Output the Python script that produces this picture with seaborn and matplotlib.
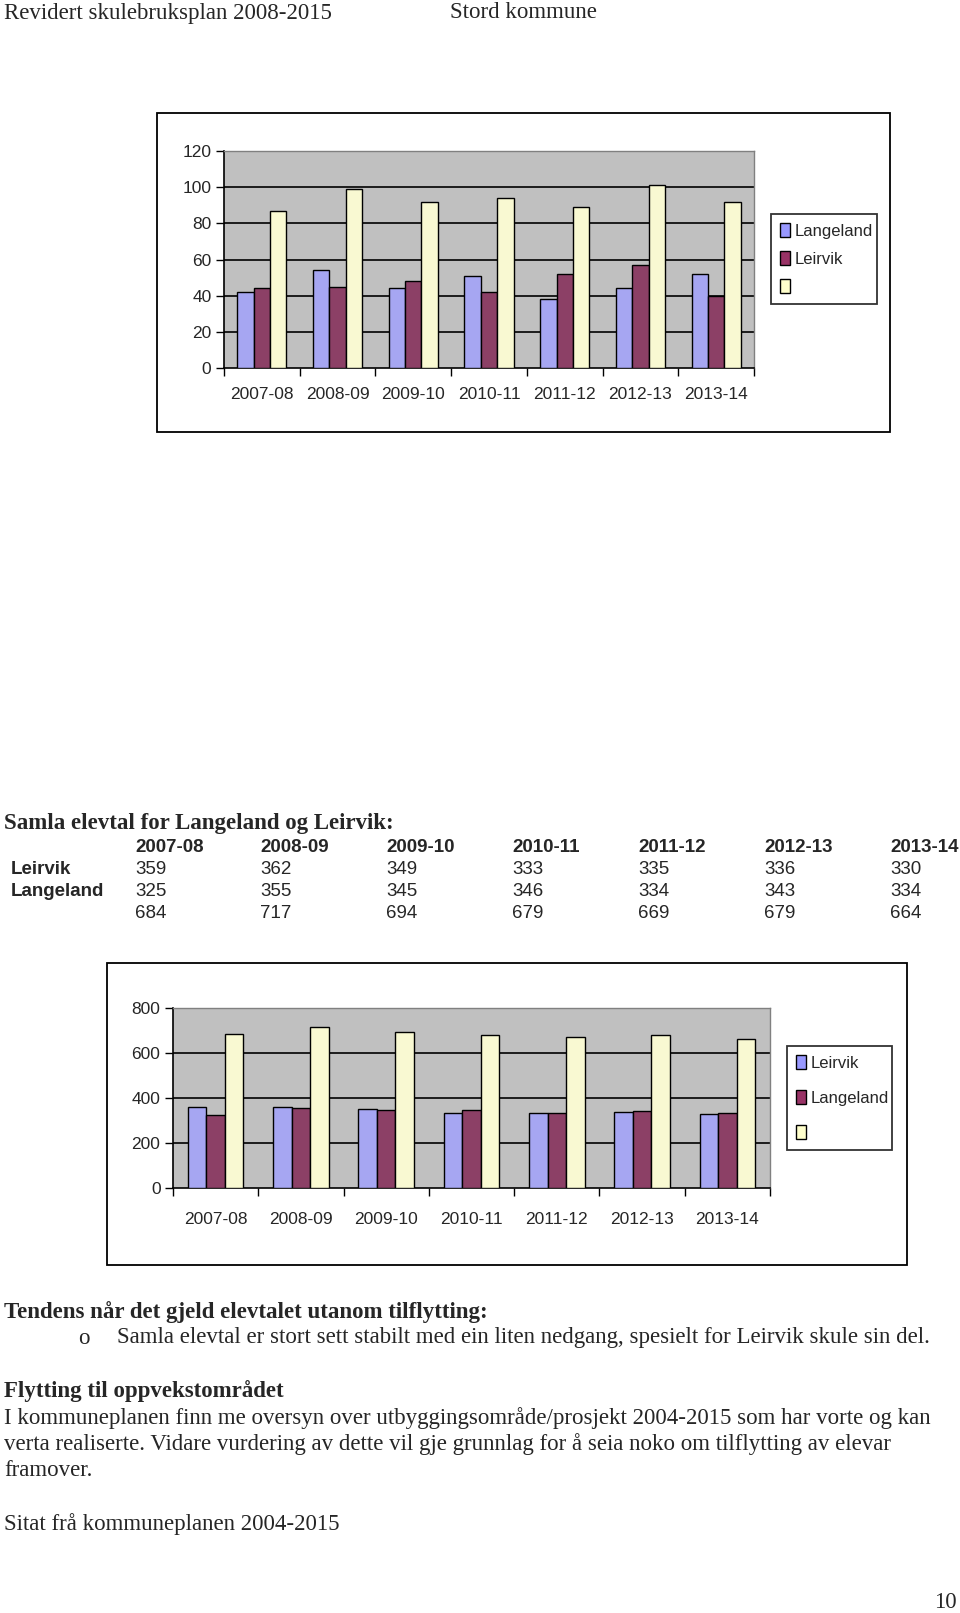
import numpy as np
import pandas as pd
import matplotlib
matplotlib.use("Agg")
import matplotlib.pyplot as plt
from matplotlib.patches import Rectangle
import seaborn as sns

# ---- data ----
years = ["2007-08", "2008-09", "2009-10", "2010-11", "2011-12", "2012-13", "2013-14"]

# first chart (first-grade pupils)
c1_langeland = [42, 54, 44, 51, 38, 44, 52]
c1_leirvik = [44, 45, 48, 42, 52, 57, 40]
c1_sum = [87, 99, 92, 94, 89, 101, 92]

# table + second chart
leirvik = [359, 362, 349, 333, 335, 336, 330]
langeland = [325, 355, 345, 346, 334, 343, 334]
totals = [684, 717, 694, 679, 669, 679, 664]

W, H = 960, 1613
BLUE, MAROON, YELLOW, GREY = "#9999FF", "#993366", "#FFFFCC", "#C0C0C0"

sns.set_style("white")
plt.rcParams["font.family"] = ["Liberation Serif", "DejaVu Serif"]
SANS = ["Liberation Sans Narrow", "Liberation Sans", "DejaVu Sans"]
SERIF = ["Liberation Serif", "DejaVu Serif"]
FS = 16.5  # body text size

fig = plt.figure(figsize=(W / 100, H / 100), dpi=100)
fig.patch.set_facecolor("white")


def fx(x):
    return x / W


def fy(y):
    return 1 - y / H


def frame(x0, y0, x1, y1):
    fig.patches.append(
        Rectangle((fx(x0), fy(y1)), fx(x1) - fx(x0), fy(y0) - fy(y1),
                  transform=fig.transFigure, fill=False, edgecolor="black",
                  linewidth=1.3)
    )


def bar_chart(box, names, series, yticks, legend_box, xpad, lspace):
    x0, y0, x1, y1 = box
    ax = fig.add_axes([fx(x0), fy(y1), fx(x1) - fx(x0), fy(y0) - fy(y1)])
    df = pd.DataFrame({
        "year": years * 3,
        "value": series[0] + series[1] + series[2],
        "serie": [names[0]] * 7 + [names[1]] * 7 + ["sum"] * 7,
    })
    sns.barplot(data=df, x="year", y="value", hue="serie",
                palette=[BLUE, MAROON, YELLOW], width=0.65,
                edgecolor="black", linewidth=1, legend=False, ax=ax, zorder=3)
    ax.set_facecolor(GREY)
    ax.set_xlim(-0.5, 6.5)
    ax.set_ylim(yticks[0], yticks[-1])
    for v in yticks[1:-1]:
        ax.axhline(v, color="black", linewidth=1.2, zorder=1)
    ax.set_yticks(yticks)
    ax.set_yticklabels([str(v) for v in yticks], family=SANS, fontsize=12.5)
    ax.set_xticks(range(7))
    ax.set_xticklabels(years, family=SANS, fontsize=12.5)
    ax.set_xticks(np.arange(-0.5, 7, 1), minor=True)
    ax.tick_params(axis="x", which="major", length=0, pad=xpad)
    ax.tick_params(axis="x", which="minor", length=6, width=1, direction="out",
                   color="black", bottom=True)
    ax.tick_params(axis="y", length=6, width=1, direction="out", left=True,
                   color="black", pad=3)
    ax.set_xlabel("")
    ax.set_ylabel("")
    for s in ["top", "right"]:
        ax.spines[s].set_color("#808080")
        ax.spines[s].set_linewidth(1)
    for s in ["left", "bottom"]:
        ax.spines[s].set_color("black")
        ax.spines[s].set_linewidth(1.2)

    handles = [Rectangle((0, 0), 1, 1, facecolor=c, edgecolor="black", linewidth=1)
               for c in [BLUE, MAROON, YELLOW]]
    lx0, ly0, lx1, ly1 = legend_box
    leg = ax.legend(handles, [names[0], names[1], ""],
                    loc="upper left", mode="expand",
                    bbox_to_anchor=(fx(lx0), fy(ly0), fx(lx1) - fx(lx0), 0),
                    bbox_transform=fig.transFigure,
                    frameon=True, fancybox=False, shadow=False,
                    handlelength=0.6, handleheight=0.9, handletextpad=0.25,
                    labelspacing=lspace, borderpad=0.55, borderaxespad=0,
                    prop={"family": SANS, "size": 12})
    leg.get_frame().set_edgecolor("black")
    leg.get_frame().set_linewidth(1.3)
    return ax


# header
fig.text(fx(4), fy(13), "Revidert skulebruksplan 2008-2015", family=SERIF,
         fontsize=FS, va="center", ha="left")
fig.text(fx(450), fy(13), "Stord kommune", family=SERIF, fontsize=FS,
         va="center", ha="left")

# chart 1
frame(157, 113, 890, 432)
bar_chart((224, 151, 754, 368), ["Langeland", "Leirvik"],
          [c1_langeland, c1_leirvik, c1_sum], [0, 20, 40, 60, 80, 100, 120],
          (771, 214, 877, 305), 14, 0.75)

# table
fig.text(fx(4), fy(824), "Samla elevtal for Langeland og Leirvik:", family=SERIF,
         fontsize=FS, fontweight="bold", va="center", ha="left")
col_x = [135, 260, 386, 512, 638, 764, 890]
for i, yr in enumerate(years):
    fig.text(fx(col_x[i]), fy(848), yr, family=SANS, fontsize=13.5,
             fontweight="bold", va="center", ha="left")
    fig.text(fx(col_x[i]), fy(869), str(leirvik[i]), family=SANS, fontsize=13.5,
             va="center", ha="left")
    fig.text(fx(col_x[i]), fy(891), str(langeland[i]), family=SANS, fontsize=13.5,
             va="center", ha="left")
    fig.text(fx(col_x[i]), fy(913), str(totals[i]), family=SANS, fontsize=13.5,
             va="center", ha="left")
fig.text(fx(11), fy(869), "Leirvik", family=SANS, fontsize=13.5,
         fontweight="bold", va="center", ha="left")
fig.text(fx(11), fy(891), "Langeland", family=SANS, fontsize=13.5,
         fontweight="bold", va="center", ha="left")

# chart 2
frame(107, 963, 907, 1265)
bar_chart((173, 1008, 770, 1188), ["Leirvik", "Langeland"],
          [leirvik, langeland, totals], [0, 200, 400, 600, 800],
          (787, 1046, 892, 1150), 17, 1.15)

# text below
fig.text(fx(4), fy(1312), "Tendens når det gjeld elevtalet utanom tilflytting:",
         family=SERIF, fontsize=FS, fontweight="bold", va="center", ha="left")
fig.text(fx(78), fy(1338), "o", family=SERIF, fontsize=FS, va="center", ha="left")
fig.text(fx(117), fy(1338),
         "Samla elevtal er stort sett stabilt med ein liten nedgang, spesielt for Leirvik skule sin del.",
         family=SERIF, fontsize=FS, va="center", ha="left")
fig.text(fx(4), fy(1391), "Flytting til oppvekstområdet", family=SERIF, fontsize=FS,
         fontweight="bold", va="center", ha="left")
body = [
    "I kommuneplanen finn me oversyn over utbyggingsområde/prosjekt 2004-2015 som har vorte og kan",
    "verta realiserte. Vidare vurdering av dette vil gje grunnlag for å seia noko om tilflytting av elevar",
    "framover.",
]
for i, line in enumerate(body):
    fig.text(fx(4), fy(1418 + 26.5 * i), line, family=SERIF, fontsize=FS,
             va="center", ha="left")
fig.text(fx(4), fy(1524), "Sitat frå kommuneplanen 2004-2015", family=SERIF,
         fontsize=FS, va="center", ha="left")
fig.text(fx(957), fy(1603), "10", family=SERIF, fontsize=FS, va="center",
         ha="right")

fig.savefig("out.png", dpi=100)
